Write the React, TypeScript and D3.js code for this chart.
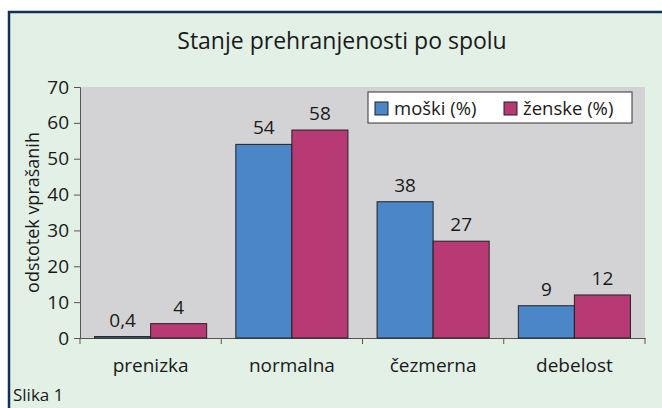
import React, { useRef, useEffect } from 'react';
import * as d3 from 'd3';

const categories = ['prenizka', 'normalna', 'čezmerna', 'debelost'];
const moski = [0.4, 54, 38, 9];
const zenske = [4, 58, 27, 12];
const valueLabels = [
  ['0,4', '54', '38', '9'],
  ['4', '58', '27', '12'],
];
const seriesNames = ['moški (%)', 'ženske (%)'];
const yTicks = [0, 10, 20, 30, 40, 50, 60, 70];

const colors = ['#4a86c8', '#b83a74'];
const font = '"Open Sans", "Noto Sans", sans-serif';

const App: React.FC = () => {
  const svgRef = useRef<SVGSVGElement | null>(null);

  useEffect(() => {
    if (!svgRef.current) return;
    const W = 662;
    const H = 408;
    const svg = d3.select(svgRef.current);
    svg.selectAll('*').remove();
    svg.attr('width', W).attr('height', H).style('background', '#fff');

    // frame
    svg.append('rect').attr('x', 9).attr('y', 12).attr('width', W).attr('height', H)
      .attr('fill', '#e2f0e6').attr('stroke', '#12315a').attr('stroke-width', 2.5);

    svg.append('text').attr('x', 342).attr('y', 49).attr('text-anchor', 'middle')
      .style('font-family', font).style('font-size', '23px').attr('fill', '#1a1a1a')
      .text('Stanje prehranjenosti po spolu');

    const left = 80, right = 645, top = 87, bottom = 338;
    const x = d3.scaleBand().domain(categories).range([left, right]).paddingInner(0).paddingOuter(0);
    const xs = d3.scaleBand().domain(['0', '1']).range([0, x.bandwidth()]).paddingInner(0).paddingOuter(0.26);
    const y = d3.scaleLinear().domain([0, 70]).range([bottom, top]);

    svg.append('rect').attr('x', left).attr('y', top).attr('width', right - left).attr('height', bottom - top)
      .attr('fill', '#d3d3d5');

    // y axis
    const yAxis = d3.axisLeft(y).tickValues(yTicks).tickSize(6).tickPadding(5).tickFormat(d3.format('d'));
    const yg = svg.append('g').attr('transform', `translate(${left},0)`).call(yAxis);
    yg.selectAll('path,line').attr('stroke', '#555');
    yg.selectAll('text').style('font-family', font).style('font-size', '19px').attr('fill', '#1a1a1a');

    // x axis
    const xAxis = d3.axisBottom(x).tickSize(0).tickPadding(21);
    const xg = svg.append('g').attr('transform', `translate(0,${bottom})`).call(xAxis);
    xg.select('.domain').attr('stroke', '#555');
    xg.selectAll('text').style('font-family', font).style('font-size', '19px').attr('fill', '#1a1a1a');
    xg.selectAll('.boundary')
      .data([...categories.map((c) => x(c)!), right])
      .enter()
      .append('line')
      .attr('x1', (d) => d).attr('x2', (d) => d).attr('y1', 0).attr('y2', 6).attr('stroke', '#555');

    const series = [moski, zenske];
    series.forEach((vals, si) => {
      const g = svg.append('g');
      g.selectAll('rect')
        .data(vals)
        .enter()
        .append('rect')
        .attr('x', (_, i) => x(categories[i])! + xs(String(si))!)
        .attr('y', (d) => y(d))
        .attr('width', xs.bandwidth())
        .attr('height', (d) => bottom - y(d))
        .attr('fill', colors[si])
        .attr('stroke', '#222')
        .attr('stroke-width', 1);
      g.selectAll('text')
        .data(vals)
        .enter()
        .append('text')
        .attr('x', (_, i) => x(categories[i])! + xs(String(si))! + xs.bandwidth() / 2)
        .attr('y', (d) => y(d) - 10)
        .attr('text-anchor', 'middle')
        .style('font-family', font).style('font-size', '19px').attr('fill', '#1a1a1a')
        .text((_, i) => valueLabels[si][i]);
    });

    // y axis title
    svg.append('text')
      .attr('transform', `translate(39,${(top + bottom) / 2}) rotate(-90)`)
      .attr('text-anchor', 'middle')
      .style('font-family', font).style('font-size', '18px').attr('fill', '#1a1a1a')
      .text('odstotek vprašanih');

    // legend
    const lg = svg.append('g').attr('transform', 'translate(368,92)');
    lg.append('rect').attr('width', 264).attr('height', 31).attr('fill', '#fff').attr('stroke', '#333');
    const offs = [7, 136];
    seriesNames.forEach((n, i) => {
      lg.append('rect').attr('x', offs[i]).attr('y', 10).attr('width', 13).attr('height', 13)
        .attr('fill', colors[i]).attr('stroke', '#222');
      lg.append('text').attr('x', offs[i] + 19).attr('y', 23)
        .style('font-family', font).style('font-size', '18.5px').attr('fill', '#1a1a1a').text(n);
    });

    svg.append('text').attr('x', 13).attr('y', 401)
      .style('font-family', font).style('font-size', '17px').attr('fill', '#1a1a1a').text('Slika 1');
  }, []);

  return <svg ref={svgRef} style={{ position: 'absolute', left: 0, top: 0, display: 'block' }} />;
};

export default App;
